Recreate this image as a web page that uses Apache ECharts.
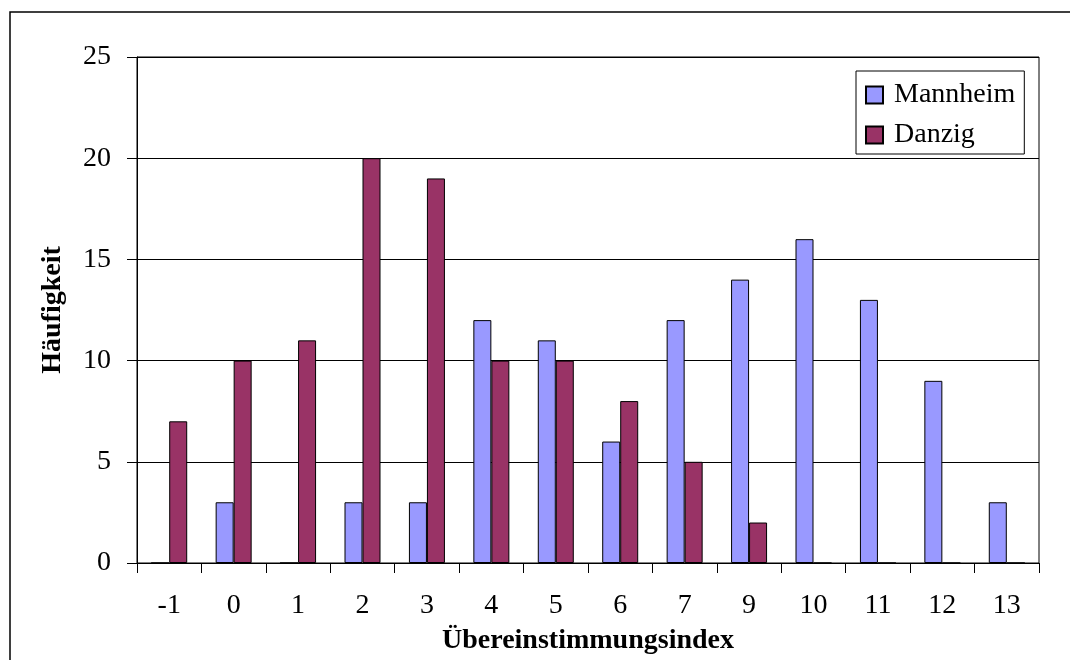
<!DOCTYPE html>
<html>
<head>
<meta charset="utf-8">
<script src="https://cdn.jsdelivr.net/npm/echarts@6/dist/echarts.min.js"></script>
<style>
html,body{margin:0;padding:0;background:#fff;}
#chart{width:1070px;height:660px;}
</style>
</head>
<body>
<div id="chart"></div>
<script>
const categories = ['-1','0','1','2','3','4','5','6','7','9','10','11','12','13'];
const mannheim = [0,3,0,3,3,12,11,6,12,14,16,13,9,3];
const danzig = [7,10,11,20,19,10,10,8,5,2,0,0,0,0];
const seriesNames = ['Mannheim','Danzig'];
const xTitle = 'Übereinstimmungsindex';
const yTitle = 'Häufigkeit';

const FONT = '"Liberation Serif", "Times New Roman", serif';
const chart = echarts.init(document.getElementById('chart'), null, {renderer:'canvas'});
chart.setOption({
  animation:false,
  backgroundColor:'#fff',
  graphic:[{
    type:'rect', silent:true, z:-1,
    shape:{x:10, y:12, width:1100, height:700},
    style:{fill:'#fff', stroke:'#000', lineWidth:1.5}
  }],
  grid:{left:137, right:31, top:57, bottom:95, show:true, borderColor:'#000', borderWidth:1, backgroundColor:'transparent'},
  legend:{
    orient:'vertical', left:856, top:71,
    padding:[10,9,5,9], itemGap:12,
    itemWidth:17, itemHeight:17,
    borderColor:'#000', borderWidth:1, backgroundColor:'#fff',
    textStyle:{fontFamily:FONT, fontSize:28, color:'#000', lineHeight:28, padding:[0,0,0,6]},
    data:[{name:seriesNames[0], icon:'rect'},{name:seriesNames[1], icon:'rect'}]
  },
  xAxis:{
    type:'category', data:categories,
    name:xTitle, nameLocation:'middle', nameGap:64,
    nameTextStyle:{fontFamily:FONT, fontSize:28, fontWeight:'bold', color:'#000'},
    axisLine:{lineStyle:{color:'#000', width:1}},
    axisTick:{show:true, length:10, lineStyle:{color:'#000'}},
    axisLabel:{fontFamily:FONT, fontSize:28, color:'#000', margin:29},
    splitLine:{show:false}
  },
  yAxis:{
    type:'value', min:0, max:25, interval:5,
    name:yTitle, nameLocation:'middle', nameGap:70, nameRotate:90,
    nameTextStyle:{fontFamily:FONT, fontSize:28, fontWeight:'bold', color:'#000'},
    axisLine:{show:true, lineStyle:{color:'#000', width:1}},
    axisTick:{show:true, length:10, lineStyle:{color:'#000'}},
    axisLabel:{fontFamily:FONT, fontSize:28, color:'#000', margin:26},
    splitLine:{show:true, lineStyle:{color:'#000', width:1}}
  },
  series:[
    {name:seriesNames[0], type:'bar', data:mannheim, barWidth:18, barGap:'0%',
     itemStyle:{color:'#9999FF', borderColor:'#000', borderWidth:1}},
    {name:seriesNames[1], type:'bar', data:danzig, barWidth:18, barGap:'0%',
     itemStyle:{color:'#993366', borderColor:'#000', borderWidth:1}}
  ]
});
</script>
</body>
</html>
